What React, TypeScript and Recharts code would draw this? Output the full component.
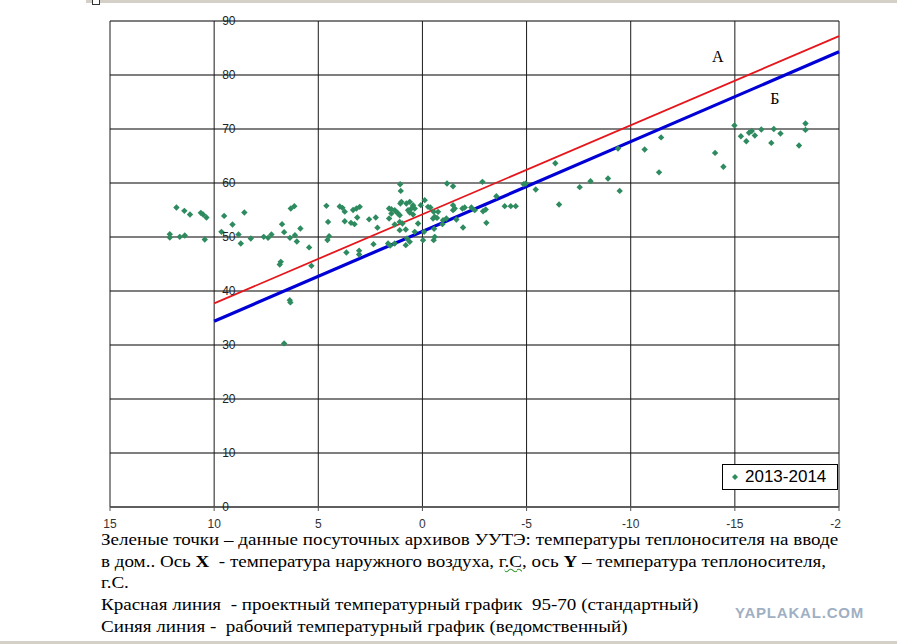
import React from 'react';
import {
  ScatterChart,
  Scatter,
  XAxis,
  YAxis,
  CartesianGrid,
  ReferenceDot,
  Legend,
} from 'recharts';

// outdoor temperature (x) / supply water temperature (y), daily archive points
const POINT_X = [
  12.13, 12.13, 11.81, 11.65, 11.41, 11.43, 11.16, 10.64, 10.53, 10.37, 10.45, 9.65, 9.52, 9.12,
  8.83, 8.72, 8.55, 8.24, 7.62, 7.41, 7.25, 6.74, 6.64, 6.36, 6.12, 5.86, 6.03, 6.32, 6.15, 5.44,
  6.8, 6.85, 6.37, 6.34, 6.64, 5.33, 4.61, 4.53, 4.48, 4.56, 3.97, 3.84, 3.73, 3.33, 3.17, 3.01,
  3.73, 3.43, 3.26, 3.13, 2.56, 2.24, 2.16, 3.65, 3.04, 3.04, 2.35, 1.65, 1.55, 1.33, 1.6, 1.49,
  1.33, 1.25, 1.17, 1.09, 1.49, 1.6, 0.77, 0.61, 0.45, 0.53, 0.69, 0.37, 0.61, 0.45, 0.08, -0.11,
  -0.27, 1.09, 0.96, 1.33, 1.09, 0.8, 0.74, 0.8, 0.61, 0.37, 0.21, -0.08, 1.07, 1.04, 1.01, 1.06,
  -0.38, -0.54, -0.75, -0.51, -0.59, -0.7, -0.56, -0.03, -0.54, -0.96, -1.18, -1.47, -1.15, -1.47,
  -1.55, -1.47, -1.63, -1.92, -2.03, -1.95, -2.35, -2.51, -2.88, -2.91, -3.04, -3.07, -3.55, -3.95,
  -4.24, -4.48, -4.86, -4.96, -5.44, -6.38, -6.56, -7.55, -8.07, -8.91, -9.47, -9.39, -10.67,
  -11.46, -11.36, -14.05, -14.45, -14.98, -15.29, -15.55, -15.68, -15.81, -15.96, -16.27, -16.87,
  -16.75, -17.19, -18.08, -18.39, -18.39, -0.59, -0.99,
];
const POINT_Y = [
  50.53, 49.92, 55.47, 50.03, 50.29, 54.84, 54.17, 54.47, 54.17, 53.62, 49.55, 50.95, 53.91, 52.32,
  50.47, 48.81, 54.54, 49.73, 50.03, 49.84, 50.47, 52.38, 50.9, 49.84, 50.34, 51.58, 49.18, 55.28,
  55.71, 48.07, 45.4, 44.92, 38.31, 37.89, 30.3, 44.66, 55.77, 52.8, 50.16, 49.45, 55.65, 55.4,
  54.69, 55.01, 55.28, 55.58, 52.93, 52.62, 52.38, 53.62, 53.27, 53.62, 51.73, 47.14, 47.47, 46.77,
  48.68, 48.81, 48.4, 48.81, 55.28, 55.15, 54.97, 54.66, 54.36, 54.04, 54.36, 53.43, 56.21, 56.51,
  55.9, 55.28, 54.97, 55.28, 54.54, 54.17, 55.9, 56.82, 55.58, 52.8, 52.5, 52.32, 51.27, 51.4,
  49.73, 48.49, 49.1, 50.95, 52.5, 50.95, 59.78, 58.54, 56.51, 56.21, 55.47, 54.66, 54.66, 53.43,
  53.73, 53.54, 51.51, 49.42, 49.42, 52.38, 59.91, 59.41, 53.43, 55.9, 55.28, 54.97, 53.25, 55.28,
  55.47, 51.77, 55.47, 54.97, 60.21, 54.78, 55.1, 52.62, 57.56, 55.71, 55.71, 55.71, 59.78, 59.91,
  58.8, 63.67, 56.02, 59.23, 60.34, 60.84, 58.54, 66.39, 66.2, 68.44, 61.97, 65.57, 63.02, 70.67,
  68.67, 67.74, 69.31, 69.63, 68.81, 69.91, 70.0, 67.43, 69.16, 66.94, 71.02, 69.83, 50.03, 53.12,
];

// design schedule 95-70 (red, "А") and working schedule (blue, "Б")
const RED_X = [10, -20];
const RED_Y = [37.7, 87.2];
const BLUE_X = [10, -20];
const BLUE_Y = [34.4, 84.3];

const X_TICKS = [15, 10, 5, 0, -5, -10, -15, -20];
const Y_TICKS = [0, 10, 20, 30, 40, 50, 60, 70, 80, 90];

const zip = (xs: number[], ys: number[]) => xs.map((x, i) => ({ x, y: ys[i] }));

const points = zip(POINT_X, POINT_Y);
const redLine = zip(RED_X, RED_Y);
const blueLine = zip(BLUE_X, BLUE_Y);

const GREEN = '#2e8b5f';
const SANS = '"Liberation Sans", Arial, sans-serif';
const SERIF = '"Liberation Serif", "Times New Roman", serif';

const Diamond = (props: any) => {
  const { cx, cy } = props;
  const r = 3.2;
  return <polygon points={`${cx},${cy - r} ${cx + r},${cy} ${cx},${cy + r} ${cx - r},${cy}`} fill={GREEN} />;
};

const NoDot = () => <g />;

const LegendBox = ({ payload }: any) => (
  <div
    style={{
      border: '1px solid #000',
      background: '#fff',
      height: 26,
      display: 'flex',
      alignItems: 'center',
      fontFamily: SANS,
      fontSize: 17,
      color: '#000',
      boxSizing: 'border-box',
      whiteSpace: 'nowrap',
    }}
  >
    {(payload || [])
      .filter((p: any) => p.value === '2013-2014')
      .map((p: any) => (
        <span key={p.value} style={{ display: 'flex', alignItems: 'center', paddingLeft: 8 }}>
          <svg width={8} height={8}>
            <polygon points="4,1 7,4 4,7 1,4" fill={GREEN} />
          </svg>
          <span style={{ marginLeft: 6 }}>{p.value}</span>
        </span>
      ))}
  </div>
);

export default function App() {
  return (
    <div style={{ position: 'absolute', left: 0, top: 0, width: 897, height: 644, background: '#fff', overflow: 'hidden' }}>
      {/* ruler strip of the document window */}
      <div style={{ position: 'absolute', left: 86, top: 0, width: 811, height: 3, background: '#d4d0c8' }} />
      <div style={{ position: 'absolute', left: 92, top: 0, width: 6, height: 4, border: '1px solid #333', borderTop: 'none', background: '#fff' }} />

      <div style={{ position: 'absolute', left: 0, top: 0, width: 841, height: 535, overflow: 'hidden' }}>
        <ScatterChart width={897} height={535} margin={{ top: 21, right: 58, bottom: 3, left: 110 }}>
          <CartesianGrid vertical={false} stroke="#555" strokeWidth={1.3} />
          <CartesianGrid horizontal={false} stroke="#1a1a1a" strokeWidth={1} />
          <XAxis
            type="number"
            dataKey="x"
            domain={[-20, 15]}
            reversed
            ticks={X_TICKS}
            interval={0}
            height={25}
            axisLine={{ stroke: '#555', strokeWidth: 1.3 }}
            tickLine={{ stroke: '#555' }}
            tickSize={4}
            tickMargin={8}
            tick={{ fontFamily: SANS, fontSize: 12, fill: '#333' }}
          />
          <YAxis type="number" dataKey="y" domain={[0, 90]} ticks={Y_TICKS} hide />
          {Y_TICKS.map((v) => (
            <ReferenceDot
              key={v}
              x={10}
              y={v}
              r={0}
              fill="none"
              stroke="none"
              label={{ value: v, position: 'right', offset: 8, fontFamily: SANS, fontSize: 12, fill: '#222' }}
            />
          ))}
          <Scatter
            name="А"
            data={redLine}
            line={{ stroke: '#e5161c', strokeWidth: 1.8 }}
            shape={NoDot}
            legendType="none"
            isAnimationActive={false}
          />
          <Scatter
            name="Б"
            data={blueLine}
            line={{ stroke: '#0000d6', strokeWidth: 3.2 }}
            shape={NoDot}
            legendType="none"
            isAnimationActive={false}
          />
          <Scatter name="2013-2014" data={points} shape={Diamond} fill={GREEN} isAnimationActive={false} />
          <ReferenceDot
            x={-14.18}
            y={83.5}
            r={0}
            fill="none"
            stroke="none"
            label={{ value: 'А', position: 'center', fontFamily: SERIF, fontSize: 16, fill: '#000' }}
          />
          <ReferenceDot
            x={-16.92}
            y={75.7}
            r={0}
            fill="none"
            stroke="none"
            label={{ value: 'Б', position: 'center', fontFamily: SERIF, fontSize: 16, fill: '#000' }}
          />
          <Legend
            layout="vertical"
            align="center"
            verticalAlign="middle"
            content={<LegendBox />}
            wrapperStyle={{ left: 722, top: 464, width: 116, bottom: 'auto' }}
          />
        </ScatterChart>
      </div>

      <div
        style={{
          position: 'absolute',
          left: 101,
          top: 529,
          fontFamily: SERIF,
          fontSize: 16,
          lineHeight: '21.7px',
          whiteSpace: 'pre',
          color: '#000',
          transform: 'scaleX(1.19)',
          transformOrigin: 'left top',
        }}
      >
        <div>Зеленые точки – данные посуточных архивов УУТЭ: температуры теплоносителя на вводе</div>
        <div>
          {'в дом.. Ось '}
          <b>X</b>
          {'  - температура наружного воздуха, г'}
          <span style={{ textDecoration: 'underline wavy #3a9a3a', textDecorationThickness: 1 }}>.С</span>
          {', ось '}
          <b>Y</b>
          {' – температура теплоносителя,'}
        </div>
        <div>г.С.</div>
        <div>Красная линия  - проектный температурный график  95-70 (стандартный)</div>
        <div>Синяя линия -  рабочий температурный график (ведомственный)</div>
      </div>

      <div
        style={{
          position: 'absolute',
          left: 735,
          top: 604,
          fontFamily: SANS,
          fontWeight: 900,
          fontSize: 15,
          letterSpacing: 0.8,
          color: '#9fb0c4',
        }}
      >
        YAPLAKAL.COM
      </div>
      <div style={{ position: 'absolute', left: 0, top: 641, width: 897, height: 3, background: '#d4d0c8' }} />
    </div>
  );
}
